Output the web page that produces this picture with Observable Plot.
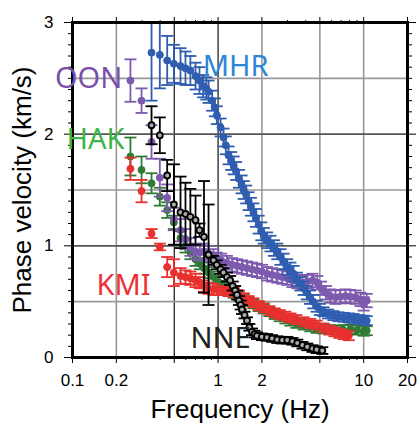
<!DOCTYPE html>
<html><head><meta charset="utf-8">
<script src="https://cdn.jsdelivr.net/npm/d3@7"></script>
<script src="https://cdn.jsdelivr.net/npm/@observablehq/plot@0.6"></script>
<style>body{margin:0;background:#fff;}</style>
</head><body><div id="chart"></div>
<script>
// ---- data (frequency Hz, phase velocity km/s, error km/s) ----
const mhrFreq = [0.349,0.398,0.447,0.497,0.552,0.597,0.645,0.70,0.745,0.79,0.83,0.86,0.91,0.95,0.98,1.04,1.09,1.13,1.18,1.23,1.28,1.33,1.39,1.45,1.50,1.56,1.62,1.68,1.75,1.82,1.90,1.98,2.06,2.17,2.29,2.42,2.55,2.68,2.82,2.98,3.14,3.30,3.48,3.67,3.87,4.07,4.28,4.5,4.75,5.0,5.3,5.7,6.2,6.7,7.3,7.9,8.5,9.3,10.0,10.5];
const mhrVel  = [2.73,2.71,2.66,2.63,2.61,2.59,2.57,2.52,2.48,2.43,2.41,2.38,2.30,2.24,2.17,2.06,1.97,1.90,1.81,1.76,1.72,1.67,1.60,1.55,1.50,1.46,1.40,1.35,1.30,1.25,1.19,1.13,1.09,1.05,1.02,0.98,0.95,0.90,0.86,0.81,0.78,0.75,0.70,0.66,0.62,0.58,0.54,0.50,0.46,0.43,0.41,0.39,0.375,0.365,0.36,0.355,0.35,0.34,0.335,0.33];
const mhrErr  = [0.43,0.30,0.22,0.17,0.16,0.15,0.13,0.12,0.12,0.10,0.10,0.10,0.09,0.08,0.08,0.08,0.08,0.08,0.08,0.08,0.08,0.08,0.08,0.08,0.08,0.08,0.08,0.08,0.08,0.08,0.08,0.08,0.07,0.07,0.07,0.07,0.07,0.07,0.07,0.07,0.07,0.07,0.06,0.06,0.06,0.06,0.06,0.06,0.05,0.05,0.04,0.04,0.04,0.04,0.04,0.04,0.04,0.04,0.04,0.04];

const oonFreq = [0.25,0.298,0.349,0.398,0.447,0.497,0.552,0.597,0.645,0.70,0.75,0.80,0.86,0.93,0.98,1.05,1.15,1.25,1.35,1.46,1.58,1.71,1.85,2.0,2.17,2.35,2.55,2.76,2.99,3.24,3.5,3.8,4.1,4.45,4.8,5.1,5.5,5.9,6.4,6.9,7.5,8.1,8.8,9.5,10.0,10.5];
const oonVel  = [2.48,2.30,1.93,1.61,1.43,1.24,1.14,1.06,0.99,0.95,0.94,0.95,0.93,0.91,0.88,0.87,0.85,0.83,0.82,0.81,0.80,0.79,0.78,0.77,0.75,0.74,0.73,0.72,0.71,0.69,0.68,0.67,0.68,0.69,0.67,0.62,0.58,0.55,0.54,0.545,0.55,0.545,0.54,0.52,0.48,0.51];
const oonErr  = [0.19,0.11,0.15,0.17,0.12,0.10,0.10,0.09,0.08,0.07,0.07,0.07,0.07,0.06,0.06,0.06,0.06,0.06,0.06,0.06,0.06,0.06,0.06,0.06,0.06,0.06,0.06,0.06,0.06,0.06,0.06,0.06,0.06,0.06,0.06,0.06,0.06,0.06,0.06,0.06,0.06,0.06,0.06,0.06,0.06,0.06];

const hakFreq = [0.25,0.298,0.349,0.398,0.447,0.497,0.552,0.597,0.645,0.70,0.75,0.80,0.86,0.93,1.0,1.09,1.18,1.28,1.39,1.50,1.62,1.75,1.9,2.06,2.25,2.45,2.65,2.9,3.14,3.45,3.87,4.3,4.75,5.3,5.9,6.5,7.2,8.1,9.0,10.0,10.5];
const hakVel  = [1.80,1.68,1.56,1.44,1.32,1.21,1.07,1.00,0.94,0.88,0.84,0.80,0.76,0.72,0.68,0.645,0.61,0.575,0.55,0.525,0.50,0.48,0.455,0.435,0.41,0.385,0.365,0.345,0.325,0.305,0.29,0.275,0.26,0.255,0.25,0.245,0.25,0.255,0.245,0.235,0.24];
const hakErr  = [0.17,0.12,0.09,0.08,0.07,0.06,0.06,0.06,0.06,0.06,0.05,0.05,0.05,0.05,0.05,0.04,0.04,0.04,0.04,0.04,0.04,0.04,0.04,0.04,0.04,0.04,0.04,0.04,0.04,0.04,0.04,0.04,0.04,0.04,0.04,0.04,0.04,0.04,0.04,0.04,0.04];

const kmiFreq = [0.25,0.298,0.349,0.398,0.447,0.497,0.552,0.597,0.645,0.70,0.75,0.80,0.86,0.93,1.0,1.09,1.18,1.28,1.39,1.50,1.62,1.75,1.9,2.06,2.25,2.45,2.65,2.9,3.14,3.45,3.87,4.3,4.75,5.3,5.8,6.3,6.8,7.3,7.9];
const kmiVel  = [1.69,1.49,1.11,0.99,0.81,0.76,0.73,0.72,0.71,0.69,0.67,0.64,0.62,0.61,0.60,0.60,0.59,0.585,0.56,0.535,0.51,0.49,0.465,0.445,0.42,0.40,0.385,0.37,0.355,0.34,0.32,0.305,0.29,0.265,0.245,0.23,0.215,0.205,0.195];
const kmiErr  = [0.10,0.10,0.04,0.03,0.09,0.12,0.07,0.06,0.06,0.06,0.05,0.05,0.05,0.05,0.04,0.04,0.04,0.04,0.04,0.04,0.04,0.04,0.04,0.04,0.04,0.04,0.04,0.04,0.04,0.04,0.04,0.04,0.04,0.04,0.04,0.04,0.04,0.04,0.04];

const nneFreq = [0.349,0.398,0.447,0.497,0.552,0.597,0.645,0.70,0.745,0.80,0.86,0.93,0.98,1.04,1.09,1.15,1.21,1.26,1.31,1.35,1.39,1.43,1.46,1.52,1.58,1.64,1.71,1.78,1.85,2.0,2.17,2.35,2.55,2.76,2.99,3.24,3.5,3.8,4.1,4.45,4.75,5.2];
const nneVel  = [2.08,1.99,1.63,1.37,1.30,1.285,1.26,1.23,1.14,1.08,0.92,0.87,0.83,0.79,0.76,0.72,0.69,0.64,0.60,0.56,0.51,0.47,0.43,0.38,0.33,0.27,0.23,0.21,0.195,0.185,0.18,0.17,0.16,0.155,0.155,0.145,0.13,0.11,0.095,0.08,0.07,0.062];
const nneErr  = [0.17,0.16,0.14,0.36,0.32,0.28,0.25,0.22,0.06,0.50,0.45,0.04,0.04,0.04,0.04,0.04,0.04,0.04,0.04,0.04,0.04,0.04,0.04,0.03,0.03,0.03,0.03,0.03,0.03,0.03,0.03,0.03,0.03,0.03,0.03,0.03,0.03,0.03,0.03,0.03,0.03,0.03];

const xMajorTicks = [0.1,0.2,0.5,1,2,5,10,20];
const xMinorTicks = [0.3,0.4,0.6,0.7,0.8,0.9,3,4,6,7,8,9];
const yMajorTicks = [0,1,2,3];
const yMinorTicks = [0.1,0.2,0.3,0.4,0.5,0.6,0.7,0.8,0.9,1.1,1.2,1.3,1.4,1.5,1.6,1.7,1.8,1.9,2.1,2.2,2.3,2.4,2.5,2.6,2.7,2.8,2.9];
const xGridLight = [0.2,2,5,10];
const xGridDark = [0.5,1];
const yGridLight = [0.5,1.5,2.5];
const yGridDark = [1,2];

// ---- build tables ----
const rows = (f, v, e) => f.map((x, i) => ({f: x, v: v[i], e: e[i]}));
const mhr = rows(mhrFreq, mhrVel, mhrErr);
const oon = rows(oonFreq, oonVel, oonErr);
const hak = rows(hakFreq, hakVel, hakErr);
const kmi = rows(kmiFreq, kmiVel, kmiErr);
const nne = rows(nneFreq, nneVel, nneErr);

const cap = {draw(ctx, size) { const w = Math.sqrt(size / Math.PI); ctx.moveTo(-w, 0); ctx.lineTo(w, 0); }};

function series(data, color, dotOpts) {
  return [
    Plot.ruleX(data, {x: "f", y1: d => d.v - d.e, y2: d => d.v + d.e, stroke: color, strokeWidth: 1.8, clip: true}),
    Plot.dot(data, {x: "f", y: d => d.v - d.e, symbol: cap, r: 6, stroke: color, strokeWidth: 1.8, fill: "none", clip: true}),
    Plot.dot(data, {x: "f", y: d => d.v + d.e, symbol: cap, r: 6, stroke: color, strokeWidth: 1.8, fill: "none", clip: true}),
    Plot.dot(data, {x: "f", y: "v", r: 3.5, fill: color, stroke: color, strokeWidth: 1, ...dotOpts, clip: true})
  ];
}

const annot = {fontFamily: "Noto Sans", fontSize: 29, textAnchor: "middle", lineAnchor: "middle"};

const chart = Plot.plot({
  width: 420, height: 430,
  marginLeft: 72, marginRight: 13, marginTop: 22, marginBottom: 73,
  style: {fontFamily: "Liberation Sans, Arial, sans-serif", fontSize: "17px", background: "#fff", color: "#000"},
  x: {type: "log", domain: [0.1, 20], label: null},
  y: {domain: [0, 3], label: null},
  marks: [
    Plot.ruleX(xGridLight, {stroke: "#999", strokeWidth: 1.6}),
    Plot.ruleX(xGridDark, {stroke: "#111", strokeWidth: 1.2}),
    Plot.ruleY(yGridLight, {stroke: "#999", strokeWidth: 1.6}),
    Plot.ruleY(yGridDark, {stroke: "#555", strokeWidth: 1.6}),
    ...series(hak, "#2f7a35"),
    ...series(kmi, "#e8302e"),
    ...series(oon, "#7d5aae"),
    ...series(mhr, "#2f5db0"),
    ...series(nne, "#000", {fill: "#aaa", stroke: "#000", strokeWidth: 1.8, r: 3}),
    Plot.frame({stroke: "#000", strokeWidth: 3}),
    Plot.axisX(xMajorTicks, {anchor: "bottom", tickSize: 6, tickPadding: 10, tickFormat: d => String(d), label: null}),
    Plot.axisX(xMinorTicks, {anchor: "bottom", tickSize: 3, tickFormat: () => "", label: null}),
    Plot.axisX(xMajorTicks, {anchor: "top", tickSize: 6, tickFormat: () => "", label: null}),
    Plot.axisX(xMinorTicks, {anchor: "top", tickSize: 3, tickFormat: () => "", label: null}),
    Plot.axisY(yMajorTicks, {anchor: "left", tickSize: 8, tickPadding: 11, tickFormat: d => String(d), label: null}),
    Plot.axisY(yMinorTicks, {anchor: "left", tickSize: 4, tickFormat: () => "", label: null}),
    Plot.axisY(yMajorTicks, {anchor: "right", tickSize: 8, tickFormat: () => "", label: null}),
    Plot.axisY(yMinorTicks, {anchor: "right", tickSize: 4, tickFormat: () => "", label: null}),
    Plot.text(["Frequency (Hz)"], {frameAnchor: "bottom", dy: 52, textAnchor: "middle", lineAnchor: "middle", fontSize: 26, fontFamily: "Liberation Sans, Arial, sans-serif"}),
    Plot.text(["Phase velocity (km/s)"], {frameAnchor: "left", dx: -50, rotate: -90, textAnchor: "middle", lineAnchor: "middle", fontSize: 26, fontFamily: "Liberation Sans, Arial, sans-serif"}),
    Plot.text([{t: "MHR", f: 1.32, v: 2.6}], {x: "f", y: "v", text: "t", fill: "#2e86d4", ...annot}),
    Plot.text([{t: "OON", f: 0.129, v: 2.5}], {x: "f", y: "v", text: "t", fill: "#7a4fa8", ...annot}),
    Plot.text([{t: "HAK", f: 0.144, v: 1.95}], {x: "f", y: "v", text: "t", fill: "#3db54a", ...annot}),
    Plot.text([{t: "KMI", f: 0.224, v: 0.64}], {x: "f", y: "v", text: "t", fill: "#ec3237", ...annot}),
    Plot.text([{t: "NNE", f: 1.04, v: 0.17}], {x: "f", y: "v", text: "t", fill: "#222", ...annot})
  ]
});
document.getElementById("chart").appendChild(chart);
</script>
</body></html>
